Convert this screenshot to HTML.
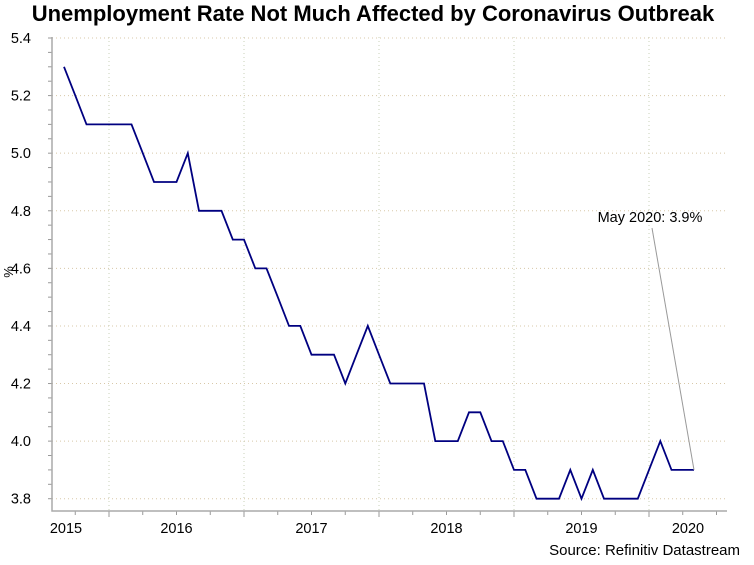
<!DOCTYPE html>
<html><head><meta charset="utf-8"><style>
body{margin:0;background:#fff;}
svg{display:block;font-family:"Liberation Sans",sans-serif;}
</style></head><body>
<svg id="chart" width="754" height="565" viewBox="0 0 754 565" xmlns="http://www.w3.org/2000/svg">
<text x="373" y="21" text-anchor="middle" font-size="22" font-weight="bold" fill="#000">Unemployment Rate Not Much Affected by Coronavirus Outbreak</text>
<text transform="translate(13,272) rotate(-90)" text-anchor="middle" font-size="13" fill="#000">%</text>
<text x="740" y="555" text-anchor="end" font-size="15" fill="#000">Source: Refinitiv Datastream</text>
<g id="grid"></g><g id="axes"></g><g id="series"></g><g id="annot"></g>
</svg>
<script>
const values=[5.3,5.2,5.1,5.1,5.1,5.1,5.1,5.0,4.9,4.9,4.9,5.0,4.8,4.8,4.8,4.7,4.7,4.6,4.6,4.5,4.4,4.4,4.3,4.3,4.3,4.2,4.3,4.4,4.3,4.2,4.2,4.2,4.2,4.0,4.0,4.0,4.1,4.1,4.0,4.0,3.9,3.9,3.8,3.8,3.8,3.9,3.8,3.9,3.8,3.8,3.8,3.8,3.9,4.0,3.9,3.9,3.9];
const startMonth=8; // Sep 2015, months since Jan 2015
const yTicks=[3.8,4.0,4.2,4.4,4.6,4.8,5.0,5.2,5.4];
const years=["2015","2016","2017","2018","2019","2020"];
const annotText="May 2020: 3.9%";

const NS="http://www.w3.org/2000/svg";
const L=52,R=727,B=511,T=37;
const mw=11.25; const jan2016=109;
const x=m=>jan2016+(m-12)*mw;
const y=v=>498.7-(v-3.8)*(498.7-38)/1.6;
function mk(tag,attrs,parent){const e=document.createElementNS(NS,tag);for(const k in attrs)e.setAttribute(k,attrs[k]);document.getElementById(parent).appendChild(e);return e;}

yTicks.forEach(v=>{
  const g=mk('line',{x1:L,x2:R,y1:y(v),y2:y(v),stroke:'#d8c8a8','stroke-dasharray':'1,3','stroke-width':1},'grid');
  
  
  const t=mk('text',{x:31,y:y(v)+5,'text-anchor':'end','font-size':14.5,fill:'#000'},'axes');
  t.textContent=v.toFixed(1);
  
  
});
for(let v=3.8;v<=5.41;v+=0.05){
  const tk=mk('line',{x1:L-4,x2:L,y1:y(v),y2:y(v),stroke:'#999'},'axes');
  
  
}
for(let k=1;k<years.length;k++){
  const xm=x(k*12);
  const g=mk('line',{x1:xm,x2:xm,y1:T,y2:B,stroke:'#c8d0b8','stroke-dasharray':'1,3'},'grid');
  
  
}
for(let q=0;q<30;q++){
  const xm=x(q*3);
  if(xm<L+2||xm>R)continue;
  const tk=mk('line',{x1:xm,x2:xm,y1:B,y2:B+(q%4==0?6:4),stroke:'#999'},'axes');
  
  
}
years.forEach((yr,k)=>{
  const a=Math.max(L,x(k*12)),b=Math.min(R,x(k*12+12));
  const t=mk('text',{x:(k==0?66:(a+b)/2),y:533,'text-anchor':'middle','font-size':14.5,fill:'#000'},'axes');
  t.textContent=yr;
  
  
});
const ax=mk('path',{d:`M${L},${T} V${B} H${R}`,fill:'none',stroke:'#aaa','stroke-width':1.5},'axes');



const pts=values.map((v,i)=>x(startMonth+i).toFixed(1)+','+y(v).toFixed(1)).join(' ');
const ln=mk('polyline',{points:pts,fill:'none',stroke:'#000080','stroke-width':1.8,'stroke-linejoin':'miter'},'series');



const last=values.length-1;
const lx=x(startMonth+last),ly=y(values[last]);
const al=mk('line',{x1:652,y1:228,x2:lx,y2:ly,stroke:'#999','stroke-width':1},'annot');


const at=mk('text',{x:650,y:222,'text-anchor':'middle','font-size':14.5,fill:'#000'},'annot');
at.textContent=annotText;


</script>
</body></html>
